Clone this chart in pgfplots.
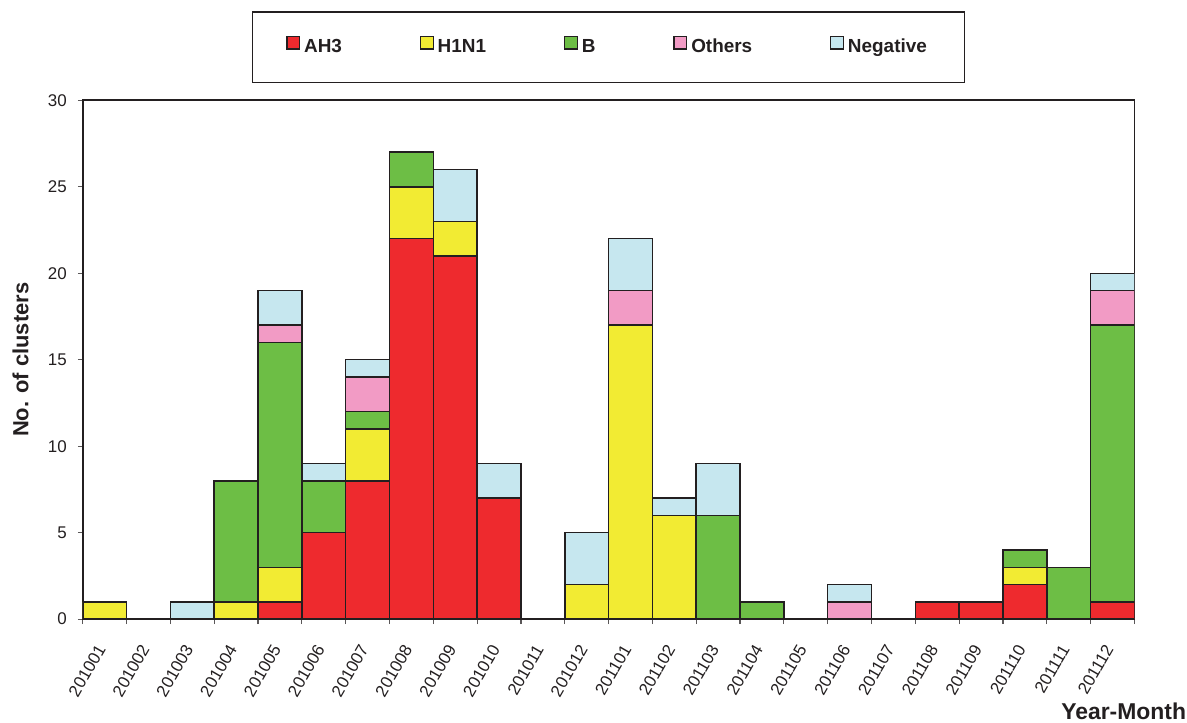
\documentclass[border=0pt]{standalone}
\usepackage{pgfplots}
\pgfplotsset{compat=1.18}
\usepackage{pgfplotstable}
\usepackage{fontspec}
\setmainfont{Liberation Sans}

\definecolor{ah3}{HTML}{EE2A2E}
\definecolor{h1n1}{HTML}{F2EB33}
\definecolor{bgrn}{HTML}{6DBE45}
\definecolor{oth}{HTML}{F29BC5}
\definecolor{neg}{HTML}{C6E7EF}
\definecolor{edge}{HTML}{231F20}

% month index, counts per type
\pgfplotstableread{
x  AH3 H1N1 B  Others Neg
0  0   1    0  0      0
1  0   0    0  0      0
2  0   0    0  0      1
3  0   1    7  0      0
4  1   2    13 1      2
5  5   0    3  0      1
6  8   3    1  2      1
7  22  3    2  0      0
8  21  2    0  0      3
9  7   0    0  0      2
10 0   0    0  0      0
11 0   2    0  0      3
12 0   17   0  2      3
13 0   6    0  0      1
14 0   0    6  0      3
15 0   0    1  0      0
16 0   0    0  0      0
17 0   0    0  1      1
18 0   0    0  0      0
19 1   0    0  0      0
20 1   0    0  0      0
21 2   1    1  0      0
22 0   0    3  0      0
23 1   0    16 2      1
}\clusters

\begin{document}
\begin{tikzpicture}
  \begin{axis}[
      width=526bp, height=259.5bp, scale only axis,
      ybar stacked, bar width=1,
      xmin=-0.5, xmax=23.5, ymin=0, ymax=30,
      axis line style={draw=edge, line width=0.9bp},
      ytick={0,5,...,30}, ytick pos=left, xtick pos=left,
      tick align=outside,
      major tick length=2.5bp, minor tick length=2.5bp,
      tick style={draw=edge!75, line width=0.6bp},
      xtick={0,...,23},
      major x tick style={draw=none},
      minor xtick={-0.5,0.5,...,23.5},
      xticklabels={201001,201002,201003,201004,201005,201006,201007,201008,
        201009,201010,201011,201012,201101,201102,201103,201104,201105,
        201106,201107,201108,201109,201110,201111,201112},
      xticklabel style={yshift=-8bp, rotate=60, anchor=east,
        font=\fontsize{8.5}{10}\selectfont, text=edge},
      yticklabel style={font=\fontsize{8.5}{10}\selectfont, text=edge, xshift=-2bp},
      /pgf/number format/assume math mode=true,
      % invisible strut keeps the blank band above the legend
      title={\rule{0pt}{44bp}},
      title style={at={(0.5,1)}, anchor=south, inner sep=0pt, yshift=0pt},
      ylabel={No. of clusters},
      ylabel style={font=\fontsize{11}{13}\selectfont\bfseries, text=edge,
        inner ysep=6.2bp},
      ylabel shift=0bp,
      xlabel={Year-Month},
      xlabel style={at={(rel axis cs:1,0)}, anchor=north east,
        inner xsep=0.5bp, inner ysep=1.5bp,
        xshift=26.5bp, yshift=-40bp,
        font=\fontsize{11.5}{13}\selectfont\bfseries, text=edge},
      every axis plot/.append style={draw=edge, line width=0.75bp},
      legend columns=-1,
      legend image code/.code={\draw[#1, line width=0.6bp] (0bp,-0.8bp) rectangle (6.3bp,5.5bp);},
      legend style={at={(0.5,1)}, anchor=south, yshift=8.5bp,
        draw=edge, line width=0.6bp, inner xsep=17bp, inner ysep=11.5bp,
        font=\fontsize{9.5}{11}\selectfont\bfseries, text=edge,
        /tikz/every even column/.append style={column sep=37bp}},
    ]
    \addplot[fill=ah3] table[x=x, y=AH3] {\clusters};
    \addplot[fill=h1n1] table[x=x, y=H1N1] {\clusters};
    \addplot[fill=bgrn] table[x=x, y=B] {\clusters};
    \addplot[fill=oth] table[x=x, y=Others] {\clusters};
    \addplot[fill=neg] table[x=x, y=Neg] {\clusters};
    \legend{AH3, H1N1, B, Others, Negative}
  \end{axis}
\end{tikzpicture}
\end{document}
